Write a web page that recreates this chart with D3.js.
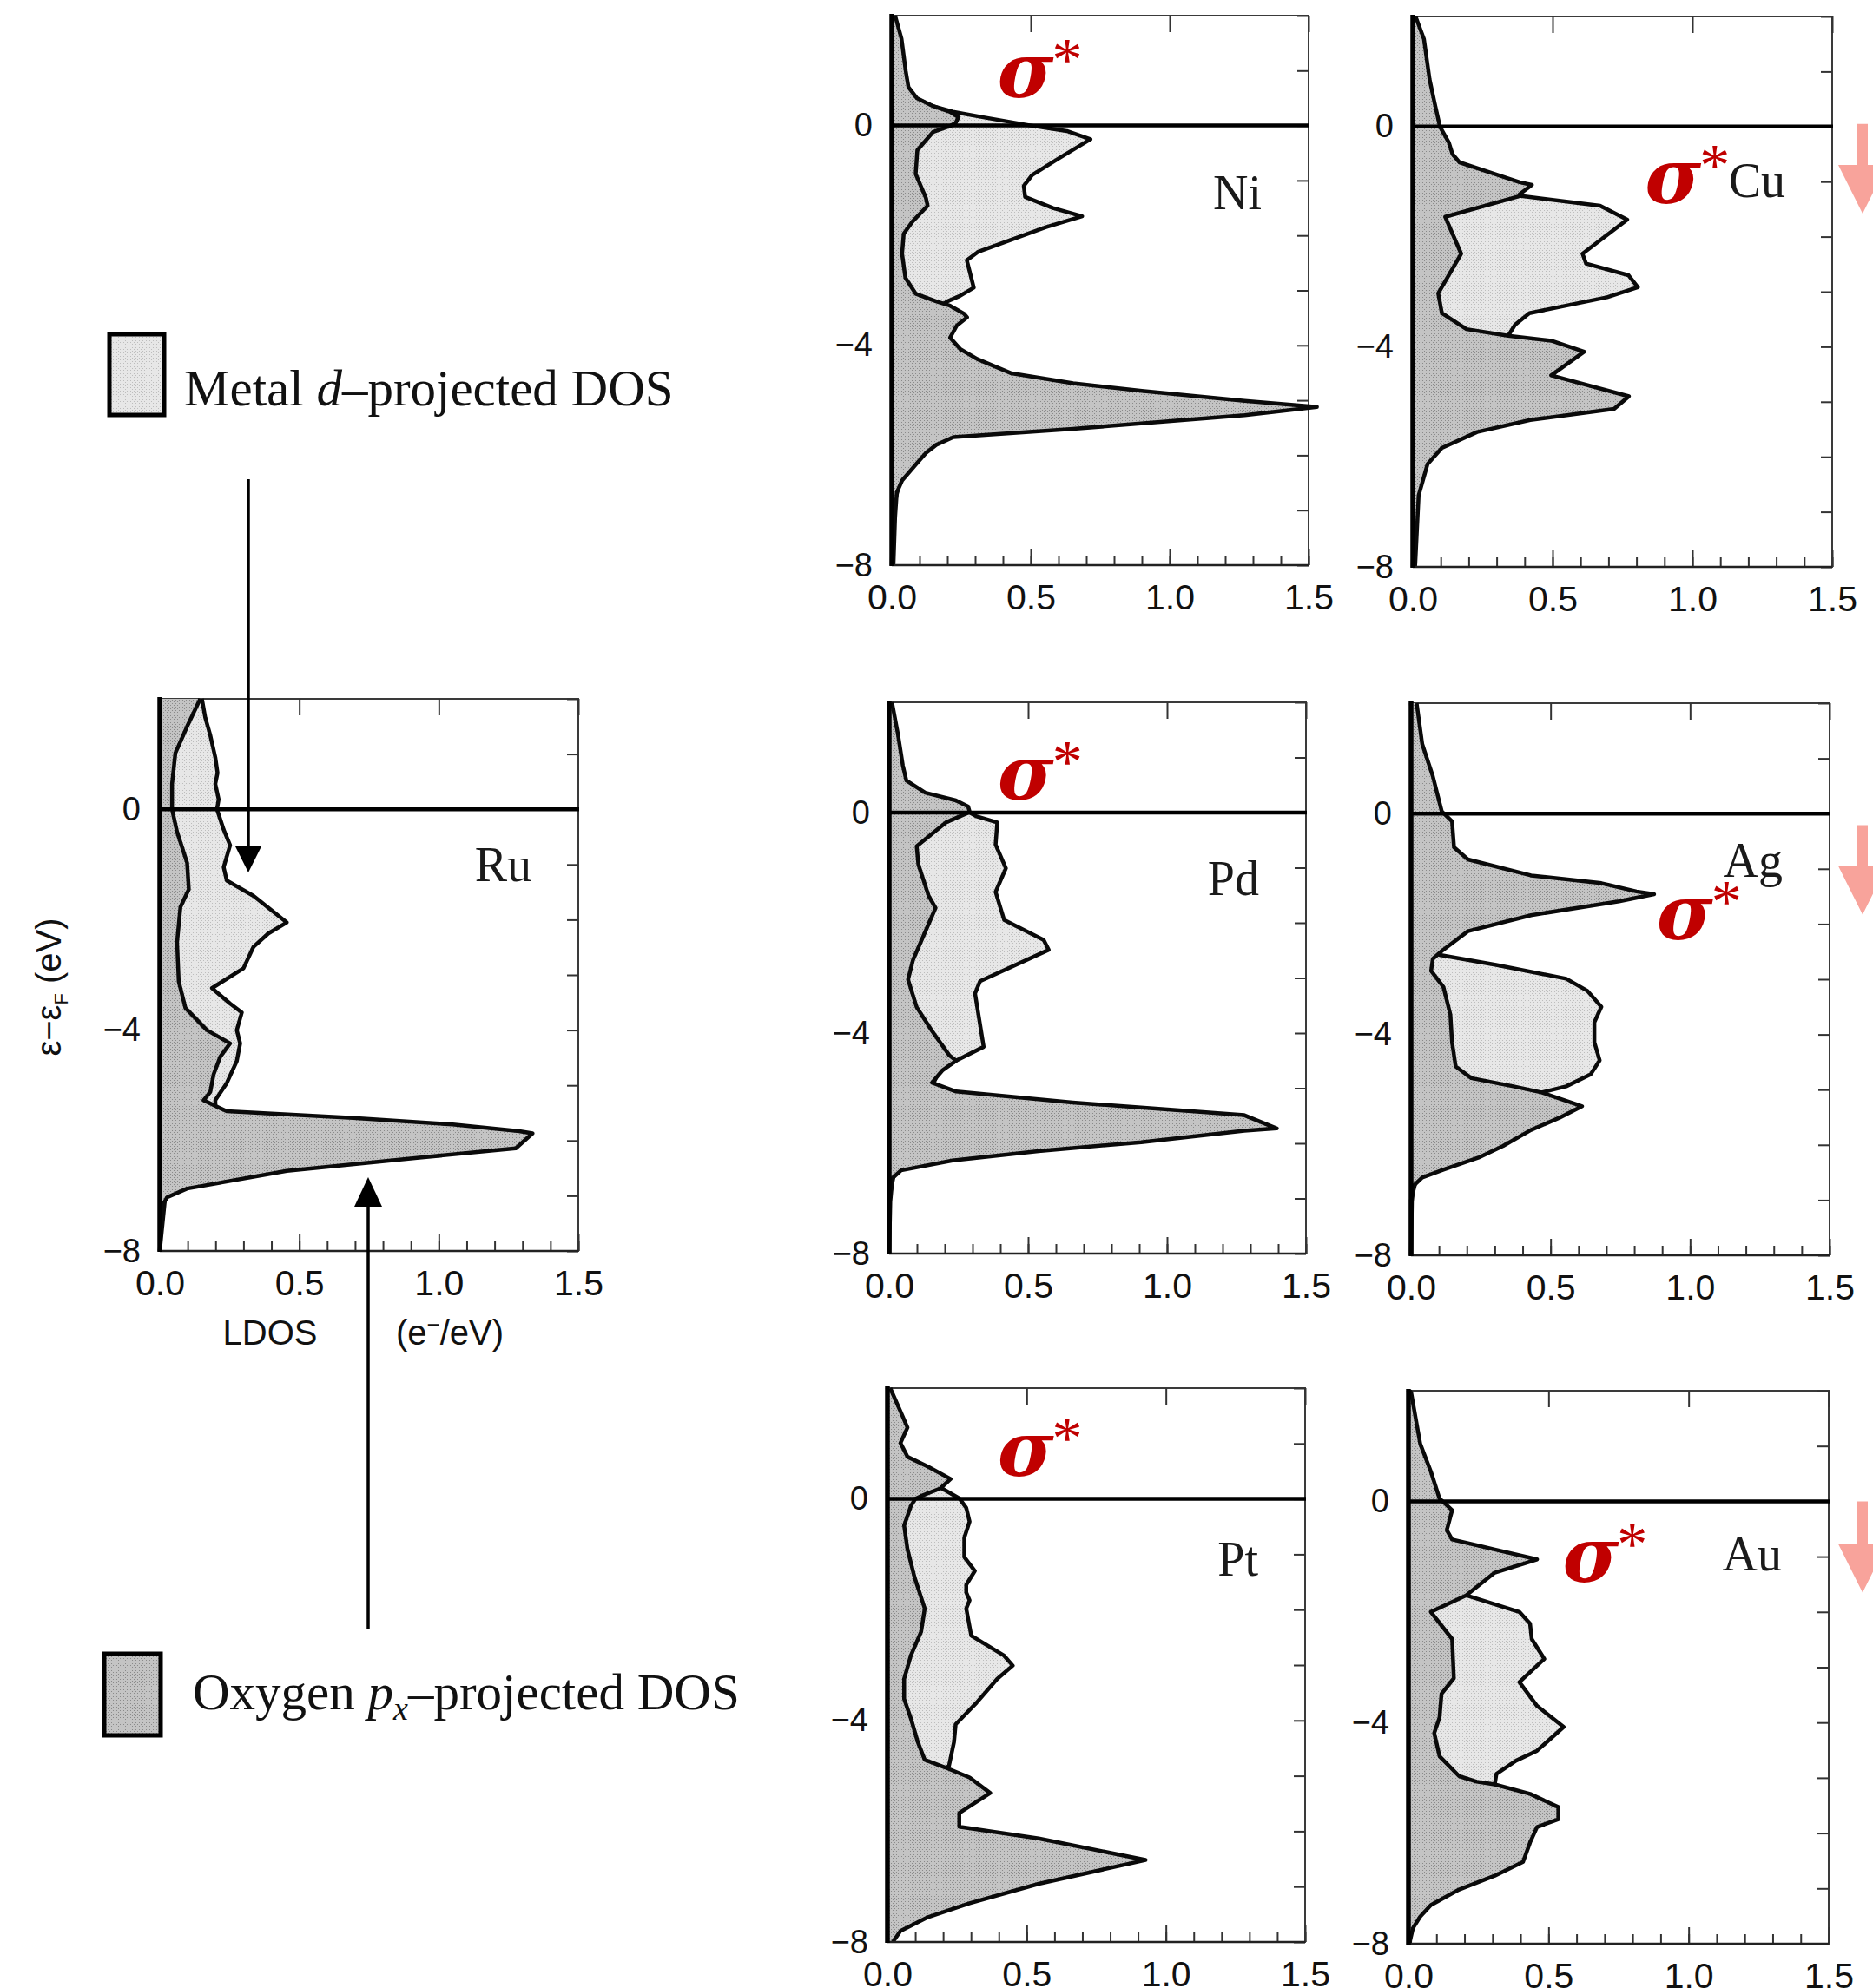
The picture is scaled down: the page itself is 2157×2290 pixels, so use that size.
<!DOCTYPE html>
<html><head><meta charset="utf-8">
<script src="https://cdn.jsdelivr.net/npm/d3@7/dist/d3.min.js"></script>
<style>html,body{margin:0;padding:0;background:#fff;} svg{display:block;}</style>
</head><body>
<svg id="chart" width="2157" height="2290"></svg>
<script>
// ---------- data: [energy (eV), LDOS (e-/eV)] ----------
const panelNames = ["Ru", "Ni", "Cu", "Pd", "Ag", "Pt", "Au"];
const xTicks = [0, 0.5, 1.0, 1.5];
const yTicks = [0, -4, -8];

const ruOxygen = [[2,0.145],[1.5,0.098],[1.02,0.056],[0.46,0.044],[0,0.044],[-0.41,0.062],[-0.97,0.098],[-1.45,0.104],[-1.77,0.074],[-2.41,0.062],[-3.12,0.068],[-3.6,0.092],[-4.0,0.169],[-4.24,0.252],[-4.48,0.217],[-4.8,0.193],[-5.12,0.181],[-5.27,0.157],[-5.47,0.24],[-5.59,0.693],[-5.71,1.05],[-5.83,1.288],[-5.87,1.336],[-6.14,1.276],[-6.31,0.93],[-6.55,0.455],[-6.87,0.098],[-7.03,0.026],[-7.19,0.008],[-8,0]];
const ruMetal = [[2,0.151],[1.66,0.163],[1.34,0.181],[0.94,0.199],[0.66,0.207],[0.46,0.199],[0.18,0.211],[0,0.205],[-0.37,0.229],[-0.65,0.252],[-1.05,0.229],[-1.29,0.24],[-1.57,0.336],[-2.05,0.455],[-2.25,0.389],[-2.49,0.336],[-2.88,0.3],[-3.24,0.187],[-3.52,0.252],[-3.68,0.294],[-4.0,0.276],[-4.24,0.288],[-4.56,0.276],[-4.96,0.24],[-5.27,0.199],[-5.47,0.2],[-6,0.15],[-6.5,0.1],[-7,0.02],[-8,0]];

const niOxygen = [[2,0.012],[1.58,0.035],[1.0,0.05],[0.7,0.06],[0.5,0.09],[0.35,0.15],[0.25,0.21],[0.15,0.24],[0.05,0.23],[-0.01,0.21],[-0.12,0.148],[-0.45,0.092],[-0.88,0.086],[-1.32,0.123],[-1.46,0.129],[-1.75,0.074],[-1.97,0.043],[-2.33,0.037],[-2.77,0.049],[-3.06,0.086],[-3.2,0.16],[-3.28,0.21],[-3.42,0.259],[-3.49,0.271],[-3.64,0.234],[-3.86,0.21],[-4.07,0.247],[-4.25,0.308],[-4.51,0.431],[-4.69,0.653],[-4.83,0.9],[-5.01,1.27],[-5.12,1.53],[-5.27,1.27],[-5.52,0.653],[-5.67,0.222],[-5.81,0.16],[-5.96,0.123],[-6.17,0.086],[-6.46,0.037],[-6.68,0.018],[-7.12,0.012],[-8,0.006]];
const niMetal = [[2,0.008],[1.5,0.03],[1.0,0.045],[0.7,0.055],[0.5,0.085],[0.35,0.15],[0.25,0.22],[0.15,0.33],[0.0,0.5],[-0.1,0.63],[-0.25,0.715],[-0.6,0.6],[-0.9,0.505],[-1.1,0.475],[-1.3,0.48],[-1.5,0.58],[-1.65,0.685],[-1.85,0.555],[-2.3,0.31],[-2.45,0.27],[-2.65,0.28],[-2.95,0.295],[-3.1,0.245],[-3.2,0.2],[-3.3,0.17],[-3.5,0.15],[-4,0.12],[-5,0.1],[-6,0.05],[-7,0.005],[-8,0]];

const cuOxygen = [[2,0.01],[1.59,0.04],[0.86,0.06],[0.43,0.078],[0,0.097],[-0.29,0.129],[-0.5,0.142],[-0.65,0.167],[-0.86,0.293],[-1.01,0.382],[-1.06,0.426],[-1.23,0.382],[-1.26,0.385],[-1.64,0.116],[-2.31,0.173],[-3.03,0.091],[-3.39,0.104],[-3.68,0.192],[-3.8,0.341],[-3.89,0.495],[-4.09,0.613],[-4.52,0.495],[-4.9,0.773],[-5.13,0.72],[-5.33,0.42],[-5.55,0.23],[-5.84,0.104],[-6.13,0.053],[-6.7,0.021],[-7.93,0.009],[-8,0.008]];
const cuMetal = [[2,0.005],[1,0.03],[0,0.06],[-0.5,0.1],[-1.0,0.2],[-1.2,0.3],[-1.26,0.388],[-1.44,0.67],[-1.69,0.767],[-2.31,0.607],[-2.49,0.62],[-2.7,0.771],[-2.92,0.805],[-3.1,0.695],[-3.39,0.417],[-3.6,0.366],[-3.8,0.341],[-4.0,0.3],[-4.5,0.2],[-5,0.15],[-6,0.05],[-7,0.005],[-8,0]];

const pdOxygen = [[2,0.01],[1.44,0.031],[0.86,0.049],[0.58,0.062],[0.36,0.13],[0.22,0.24],[0.11,0.284],[0.01,0.29],[-0.18,0.204],[-0.61,0.099],[-0.94,0.105],[-1.51,0.142],[-1.73,0.167],[-2.02,0.142],[-2.67,0.086],[-3.03,0.068],[-3.53,0.099],[-3.96,0.154],[-4.4,0.216],[-4.5,0.241],[-4.68,0.191],[-4.9,0.154],[-5.06,0.241],[-5.26,0.66],[-5.49,1.278],[-5.73,1.395],[-5.77,1.278],[-5.98,0.907],[-6.14,0.537],[-6.31,0.228],[-6.49,0.043],[-6.63,0.012],[-7.06,0.004],[-8,0]];
const pdMetal = [[2,0.005],[1,0.03],[0.5,0.05],[0.2,0.15],[0.05,0.25],[0,0.29],[-0.07,0.315],[-0.18,0.389],[-0.58,0.383],[-1.01,0.42],[-1.44,0.383],[-1.95,0.414],[-2.31,0.556],[-2.49,0.574],[-3.06,0.327],[-3.28,0.309],[-4.25,0.34],[-4.5,0.241],[-4.7,0.18],[-5,0.15],[-6,0.1],[-6.3,0.08],[-6.5,0.02],[-7,0],[-8,0]];

const agOxygen = [[2,0.02],[1.26,0.04],[0.68,0.078],[0.04,0.11],[-0.14,0.147],[-0.61,0.154],[-0.83,0.204],[-1.12,0.43],[-1.26,0.682],[-1.41,0.808],[-1.46,0.871],[-1.59,0.745],[-1.84,0.43],[-2.13,0.204],[-2.49,0.11],[-2.63,0.078],[-2.85,0.072],[-3.14,0.116],[-3.64,0.141],[-4.14,0.147],[-4.58,0.16],[-4.79,0.216],[-4.94,0.367],[-5.05,0.468],[-5.3,0.613],[-5.51,0.531],[-5.73,0.43],[-6.02,0.33],[-6.23,0.242],[-6.45,0.116],[-6.59,0.04],[-6.74,0.009],[-7.03,0.003],[-8,0]];
const agMetal = [[2,0],[0,0.03],[-1,0.05],[-2,0.07],[-2.5,0.08],[-2.56,0.103],[-2.74,0.305],[-2.99,0.556],[-3.21,0.632],[-3.5,0.682],[-3.78,0.657],[-4.14,0.657],[-4.47,0.676],[-4.72,0.644],[-4.94,0.556],[-5.05,0.468],[-5.3,0.4],[-5.7,0.35],[-6,0.25],[-6.3,0.1],[-6.6,0.02],[-7,0],[-8,0]];

const ptOxygen = [[2,0.01],[1.58,0.047],[1.29,0.072],[1.01,0.047],[0.76,0.072],[0.58,0.146],[0.36,0.227],[0.19,0.19],[0.05,0.12],[0,0.1],[-0.13,0.084],[-0.48,0.06],[-0.91,0.072],[-1.41,0.097],[-1.98,0.134],[-2.4,0.121],[-2.83,0.084],[-3.25,0.06],[-3.61,0.06],[-3.96,0.084],[-4.39,0.109],[-4.71,0.134],[-4.85,0.208],[-5.03,0.295],[-5.31,0.369],[-5.67,0.258],[-5.92,0.258],[-6.13,0.543],[-6.52,0.927],[-6.95,0.543],[-7.3,0.295],[-7.55,0.146],[-7.8,0.047],[-7.98,0.022],[-8,0.02]];
const ptMetal = [[2,0],[1,0.03],[0.5,0.1],[0.3,0.17],[0.19,0.196],[0.01,0.258],[-0.16,0.283],[-0.41,0.295],[-0.7,0.276],[-1.05,0.276],[-1.3,0.314],[-1.55,0.283],[-1.69,0.283],[-1.83,0.295],[-1.98,0.283],[-2.47,0.301],[-2.83,0.419],[-3.01,0.45],[-3.25,0.394],[-3.68,0.32],[-4.07,0.245],[-4.39,0.239],[-4.82,0.221],[-4.9,0.2],[-5.2,0.2],[-6,0.15],[-7,0.05],[-8,0]];

const auOxygen = [[2,0.005],[1.96,0.01],[1.04,0.042],[0.54,0.08],[0.05,0.111],[-0.16,0.156],[-0.52,0.137],[-0.69,0.156],[-0.87,0.308],[-1.05,0.459],[-1.29,0.308],[-1.7,0.206],[-2.0,0.08],[-2.49,0.156],[-3.2,0.162],[-3.48,0.118],[-3.91,0.111],[-4.19,0.092],[-4.61,0.111],[-4.97,0.181],[-5.07,0.244],[-5.12,0.308],[-5.29,0.434],[-5.53,0.535],[-5.75,0.535],[-5.89,0.459],[-6.17,0.434],[-6.52,0.409],[-6.77,0.308],[-7.02,0.181],[-7.3,0.08],[-7.51,0.042],[-7.72,0.016],[-7.94,0.006],[-8,0.005]];
const auMetal = [[2,0],[0,0.05],[-1,0.1],[-1.5,0.15],[-1.7,0.206],[-2.0,0.396],[-2.21,0.434],[-2.49,0.44],[-2.85,0.485],[-3.27,0.396],[-3.7,0.459],[-4.08,0.554],[-4.51,0.459],[-4.69,0.384],[-4.93,0.314],[-5.12,0.308],[-5.5,0.25],[-6,0.2],[-7,0.05],[-8,0]];

// sigma* annotations (position in panel data units) and element label energies
const sigmaPanels = ["Ni", "Cu", "Pd", "Ag", "Pt", "Au"];
const sigmaX = [0.38, 0.83, 0.39, 0.88, 0.395, 0.55];
const sigmaE = [0.515, -1.39, 0.236, -2.27, 0.41, -1.46];
const labelE = [-1.3, -1.52, -1.28, -1.5, -1.14, -1.39, -1.25];
const shiftPanels = ["Cu", "Ag", "Au"];
const shiftFrom = [0.05, -0.21, 0.0];
const shiftTo = [-1.58, -1.83, -1.65];

// ---------- layout (pixels) ----------
const frames = {
  Ru: [184, 666, 805, 1441],
  Ni: [1027, 1507, 18, 651],
  Cu: [1627, 2110, 19, 653],
  Pd: [1024, 1504, 809, 1444],
  Ag: [1625, 2107, 810, 1446],
  Pt: [1022, 1503, 1599, 2237],
  Au: [1622, 2106, 1602, 2239]
};
const series = {
  Ru: [ruOxygen, ruMetal], Ni: [niOxygen, niMetal], Cu: [cuOxygen, cuMetal],
  Pd: [pdOxygen, pdMetal], Ag: [agOxygen, agMetal], Pt: [ptOxygen, ptMetal], Au: [auOxygen, auMetal]
};

const svg = d3.select("#chart");
const defs = svg.append("defs");
function stipple(id, bg, dot) {
  const p = defs.append("pattern").attr("id", id).attr("width", 4).attr("height", 4)
    .attr("patternUnits", "userSpaceOnUse");
  p.append("rect").attr("width", 4).attr("height", 4).attr("fill", bg);
  p.append("rect").attr("x", 0).attr("y", 0).attr("width", 1).attr("height", 1).attr("fill", dot);
  p.append("rect").attr("x", 2).attr("y", 2).attr("width", 1).attr("height", 1).attr("fill", dot);
}
stipple("darkFill", "#c4c4c4", "#8a8a8a");
stipple("lightFill", "#e7e7e7", "#bdbdbd");

const SANS = "'Liberation Sans', Arial, Helvetica, sans-serif";
const SERIF = "'Liberation Serif', 'Times New Roman', serif";
const scales = {};

panelNames.forEach((name, i) => {
  const [x0, x1, yT, yB] = frames[name];
  const x = d3.scaleLinear().domain([0, 1.5]).range([x0, x1]);
  const y = d3.scaleLinear().domain([2, -8]).range([yT, yB]);
  scales[name] = { x, y };
  const g = svg.append("g");
  const [oxy, met] = series[name];
  const area = d3.area().y(d => y(d[0])).x0(x(0)).x1(d => x(d[1]));
  const line = d3.line().y(d => y(d[0])).x(d => x(d[1]));

  g.append("rect").attr("x", x0).attr("y", yT).attr("width", x1 - x0).attr("height", yB - yT)
    .attr("fill", "none").attr("stroke", "#3a3a3a").attr("stroke-width", 2);

  // metal d (light) first, then oxygen p_x (dark) on top
  g.append("path").datum(met).attr("d", area).attr("fill", "url(#lightFill)");
  g.append("path").datum(met).attr("d", line).attr("fill", "none")
    .attr("stroke", "#0a0a0a").attr("stroke-width", 4.5).attr("stroke-linejoin", "round");
  g.append("path").datum(oxy).attr("d", area).attr("fill", "url(#darkFill)");
  g.append("path").datum(oxy).attr("d", line).attr("fill", "none")
    .attr("stroke", "#0a0a0a").attr("stroke-width", 4.5).attr("stroke-linejoin", "round");

  // ticks
  const minor = d3.range(0, 1.5001, 0.1);
  const top = g.append("g").attr("transform", `translate(0,${yT})`);
  top.call(d3.axisTop(x).tickValues(minor).tickSize(-11).tickFormat(""));
  top.call(d3.axisTop(x).tickValues(xTicks).tickSize(-19).tickFormat(""));
  const bot = g.append("g").attr("transform", `translate(0,${yB})`);
  bot.call(d3.axisBottom(x).tickValues(minor).tickSize(-11).tickFormat(""));
  const botMaj = g.append("g").attr("transform", `translate(0,${yB})`)
    .call(d3.axisBottom(x).tickValues(xTicks).tickSize(-19).tickPadding(22).tickFormat(d3.format(".1f")));
  botMaj.selectAll("text").attr("font-family", SANS).attr("font-size", 41).attr("fill", "#111");
  const right = g.append("g").attr("transform", `translate(${x1},0)`);
  right.call(d3.axisRight(y).tickValues(d3.range(-8, 2.001, 1)).tickSize(-13).tickFormat(""));
  const left = g.append("g").attr("transform", `translate(${x0},0)`)
    .call(d3.axisLeft(y).tickValues(yTicks).tickSize(0).tickPadding(22));
  left.selectAll("text").attr("font-family", SANS).attr("font-size", 38).attr("fill", "#111");
  g.selectAll(".domain").remove();
  g.selectAll(".tick line").attr("stroke", "#333").attr("stroke-width", 2);

  g.append("line").attr("x1", x0).attr("x2", x1).attr("y1", yB).attr("y2", yB)
    .attr("stroke", "#222").attr("stroke-width", 2.5);
  g.append("line").attr("x1", x0).attr("x2", x0).attr("y1", yT - 2).attr("y2", yB + 1)
    .attr("stroke", "#000").attr("stroke-width", 5.5);
  g.append("line").attr("x1", x0).attr("x2", x1 + 1).attr("y1", y(0)).attr("y2", y(0))
    .attr("stroke", "#000").attr("stroke-width", 4.5);

  g.append("text").attr("x", x1 - 54).attr("y", y(labelE[i])).attr("text-anchor", "end")
    .attr("font-family", SERIF).attr("font-size", 56).attr("fill", "#1a1a1a").text(name);
});

// sigma* annotations
sigmaPanels.forEach((name, i) => {
  const { x, y } = scales[name];
  const px = x(sigmaX[i]), py = y(sigmaE[i]);
  const s = svg.append("text").attr("x", px).attr("y", py)
    .attr("font-family", "'DejaVu Serif', 'Liberation Serif', serif")
    .attr("font-size", 88).attr("font-weight", "bold").attr("font-style", "italic")
    .attr("fill", "#c00000").text("σ");
  const w = s.node().getComputedTextLength();
  svg.append("text").attr("x", px + w - 2).attr("y", py - 20).attr("font-family", SERIF)
    .attr("font-size", 70).attr("fill", "#c00000").text("*");
});

// salmon down-shift arrows at the right edge
shiftPanels.forEach((name, i) => {
  const { y } = scales[name];
  const cx = 2145, yA = y(shiftFrom[i]), yTip = y(shiftTo[i]);
  const headH = 56, halfW = 28, shaftW = 6;
  const pts = [[cx - shaftW, yA], [cx + shaftW, yA], [cx + shaftW, yTip - headH], [cx + halfW, yTip - headH],
               [cx, yTip], [cx - halfW, yTip - headH], [cx - shaftW, yTip - headH]];
  svg.append("path").attr("d", d3.line()(pts) + "Z").attr("fill", "#f8a39b");
});

// Ru axis labels
svg.append("text").attr("x", 311).attr("y", 1549).attr("text-anchor", "middle")
  .attr("font-family", SANS).attr("font-size", 40).attr("fill", "#111").text("LDOS");
const unit = svg.append("text").attr("x", 518).attr("y", 1549).attr("text-anchor", "middle")
  .attr("font-family", SANS).attr("font-size", 40).attr("fill", "#111");
unit.append("tspan").text("(e");
unit.append("tspan").attr("dy", -14).attr("font-size", 26).text("−");
unit.append("tspan").attr("dy", 14).text("/eV)");

const yTitle = svg.append("text").attr("transform", "translate(70,1137) rotate(-90)")
  .attr("text-anchor", "middle").attr("font-family", SANS).attr("font-size", 40).attr("fill", "#111");
yTitle.append("tspan").text("ε−ε");
yTitle.append("tspan").attr("dy", 8).attr("font-size", 22).text("F");
yTitle.append("tspan").attr("dy", -8).text(" (eV)");

// legend
svg.append("rect").attr("x", 126).attr("y", 385).attr("width", 63).attr("height", 93)
  .attr("fill", "url(#lightFill)").attr("stroke", "#000").attr("stroke-width", 5);
const l1 = svg.append("text").attr("x", 212).attr("y", 467).attr("font-family", SERIF)
  .attr("font-size", 59).attr("fill", "#111");
l1.append("tspan").text("Metal ");
l1.append("tspan").attr("font-style", "italic").text("d");
l1.append("tspan").text("–projected DOS");

svg.append("rect").attr("x", 120).attr("y", 1905).attr("width", 65).attr("height", 94)
  .attr("fill", "url(#darkFill)").attr("stroke", "#000").attr("stroke-width", 5);
const l2 = svg.append("text").attr("x", 222).attr("y", 1969).attr("font-family", SERIF)
  .attr("font-size", 59).attr("fill", "#111");
l2.append("tspan").text("Oxygen ");
l2.append("tspan").attr("font-style", "italic").text("p");
l2.append("tspan").attr("font-style", "italic").attr("font-size", 38).attr("dy", 12).text("x");
l2.append("tspan").attr("dy", -12).text("–projected DOS");

// legend pointer arrows
function arrow(xc, yStart, yTip, headH, halfW) {
  const dir = yTip > yStart ? 1 : -1;
  svg.append("line").attr("x1", xc).attr("x2", xc).attr("y1", yStart).attr("y2", yTip - dir * headH)
    .attr("stroke", "#000").attr("stroke-width", 3.5);
  svg.append("path").attr("d", d3.line()([[xc - halfW, yTip - dir * headH], [xc + halfW, yTip - dir * headH], [xc, yTip]]) + "Z")
    .attr("fill", "#000");
}
arrow(286, 552, 1005, 30, 15);
arrow(424, 1877, 1356, 34, 16);
</script>
</body></html>
